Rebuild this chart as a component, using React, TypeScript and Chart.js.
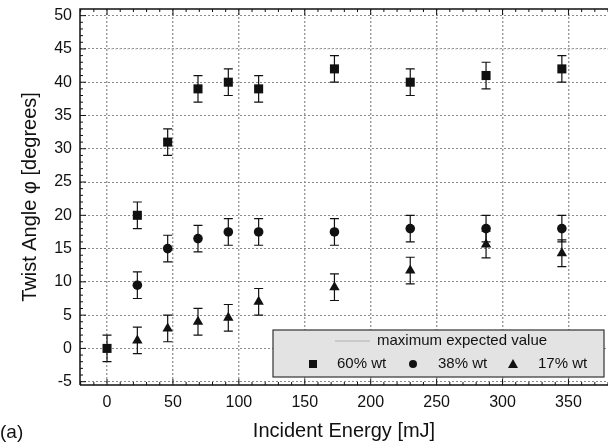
import React, { useEffect, useRef } from "react";
import { Chart, registerables } from "chart.js";
Chart.register(...registerables);

// ---- data ----
const energy60 = [0, 23, 46, 69, 92, 115, 172.5, 230, 287.5, 345];
const twist60 = [0, 20, 31, 39, 40, 39, 42, 40, 41, 42];
const err60 = [2, 2, 2, 2, 2, 2, 2, 2, 2, 2];

const energy38 = [23, 46, 69, 92, 115, 172.5, 230, 287.5, 345];
const twist38 = [9.5, 15, 16.5, 17.5, 17.5, 17.5, 18, 18, 18];
const err38 = [2, 2, 2, 2, 2, 2, 2, 2, 2];

const energy17 = [23, 46, 69, 92, 115, 172.5, 230, 287.5, 345];
const twist17 = [1.2, 3, 4, 4.6, 7, 9.2, 11.7, 15.6, 14.3];
const err17 = [2, 2, 2, 2, 2, 2, 2, 2, 2];

const maxExpectedX = [0, 380];
const maxExpectedY = [45, 45];

const xTickValues = [0, 50, 100, 150, 200, 250, 300, 350];
const yTickValues = [-5, 0, 5, 10, 15, 20, 25, 30, 35, 40, 45, 50];

const seriesLabels = ["maximum expected value", "60% wt", "38% wt", "17% wt"];
const xTitle = "Incident Energy [mJ]";
const yTitle = "Twist Angle \u03c6 [degrees]";
const panelLabel = "(a)";

const FONT = "'Liberation Sans', Arial, Helvetica, sans-serif";
const INK = "#111111";

const toPoints = (xs: number[], ys: number[]) => xs.map((x, i) => ({ x, y: ys[i] }));

const errorBarPlugin = {
  id: "errorBars",
  beforeDatasetsDraw(chart: any) {
    const ctx = chart.ctx;
    const yScale = chart.scales.y;
    ctx.save();
    ctx.strokeStyle = INK;
    ctx.lineWidth = 1.2;
    chart.data.datasets.forEach((ds: any, di: number) => {
      if (!ds.errors) return;
      const meta = chart.getDatasetMeta(di);
      meta.data.forEach((pt: any, i: number) => {
        const v = ds.data[i].y;
        const e = ds.errors[i];
        const x = pt.x;
        const yTop = yScale.getPixelForValue(v + e);
        const yBot = yScale.getPixelForValue(v - e);
        ctx.beginPath();
        ctx.moveTo(x, yTop);
        ctx.lineTo(x, yBot);
        ctx.moveTo(x - 4.5, yTop);
        ctx.lineTo(x + 4.5, yTop);
        ctx.moveTo(x - 4.5, yBot);
        ctx.lineTo(x + 4.5, yBot);
        ctx.stroke();
      });
    });
    ctx.restore();
  },
};

const framePlugin = {
  id: "frame",
  afterDraw(chart: any) {
    const ctx = chart.ctx;
    const { left, right, top, bottom } = chart.chartArea;
    const xs = chart.scales.x;
    const ys = chart.scales.y;
    ctx.save();
    ctx.strokeStyle = INK;
    ctx.lineWidth = 1.5;
    ctx.beginPath();
    ctx.moveTo(left, bottom);
    ctx.lineTo(left, top);
    ctx.lineTo(right, top);
    ctx.moveTo(left, bottom);
    ctx.lineTo(right, bottom);
    ctx.stroke();
    ctx.lineWidth = 1;
    ctx.beginPath();
    for (let v = -5; v <= 50; v += 1) {
      const y = ys.getPixelForValue(v);
      const len = v % 5 === 0 ? 6 : 3;
      ctx.moveTo(left, y);
      ctx.lineTo(left + len, y);
    }
    for (let v = -20; v <= 380; v += 10) {
      const x = xs.getPixelForValue(v);
      if (x < left || x > right) continue;
      const len = v % 50 === 0 ? 6 : 3;
      ctx.moveTo(x, top);
      ctx.lineTo(x, top + len);
      ctx.moveTo(x, bottom);
      ctx.lineTo(x, bottom - len);
    }
    ctx.stroke();

    // legend box
    const bx = 273, by = 330, bw = 331, bh = 47;
    ctx.fillStyle = "#e3e3e3";
    ctx.fillRect(bx, by, bw, bh);
    ctx.strokeStyle = "#333";
    ctx.lineWidth = 1.2;
    ctx.strokeRect(bx, by, bw, bh);

    ctx.fillStyle = INK;
    ctx.font = `15px ${FONT}`;
    ctx.textBaseline = "middle";
    ctx.textAlign = "left";
    ctx.strokeStyle = "#b0b0b0";
    ctx.lineWidth = 1;
    ctx.beginPath();
    ctx.moveTo(335, 341);
    ctx.lineTo(370, 341);
    ctx.stroke();
    ctx.fillText(seriesLabels[0], 377, 341);
    const rowY = 364;
    ctx.fillRect(313 - 4, rowY - 4, 8, 8);
    ctx.fillText(seriesLabels[1], 337, rowY);
    ctx.beginPath();
    ctx.arc(413, rowY, 4, 0, Math.PI * 2);
    ctx.fill();
    ctx.fillText(seriesLabels[2], 438, rowY);
    ctx.beginPath();
    ctx.moveTo(513, rowY - 5);
    ctx.lineTo(518, rowY + 4);
    ctx.lineTo(508, rowY + 4);
    ctx.closePath();
    ctx.fill();
    ctx.fillText(seriesLabels[3], 538, rowY);

    ctx.font = `19px ${FONT}`;
    ctx.fillText(panelLabel, 0, 433);
    ctx.restore();
  },
};

export default function App() {
  const ref = useRef<HTMLCanvasElement | null>(null);

  useEffect(() => {
    document.body.style.margin = "0";
    const canvas = ref.current;
    if (!canvas) return;
    const chart = new Chart(canvas, {
      type: "scatter",
      data: {
        datasets: [
          {
            type: "line",
            label: seriesLabels[0],
            data: toPoints(maxExpectedX, maxExpectedY),
            borderColor: "#c4c4c4",
            borderWidth: 1,
            borderDash: [2, 2],
            pointRadius: 0,
            fill: false,
          } as any,
          {
            label: seriesLabels[3],
            data: toPoints(energy17, twist17),
            errors: err17,
            pointStyle: "triangle",
            pointRadius: 6,
            backgroundColor: INK,
            borderColor: INK,
            borderWidth: 0,
          } as any,
          {
            label: seriesLabels[2],
            data: toPoints(energy38, twist38),
            errors: err38,
            pointStyle: "circle",
            pointRadius: 4.8,
            backgroundColor: INK,
            borderColor: INK,
            borderWidth: 0,
          } as any,
          {
            label: seriesLabels[1],
            data: toPoints(energy60, twist60),
            errors: err60,
            pointStyle: "rect",
            pointRadius: 6.4,
            backgroundColor: INK,
            borderColor: INK,
            borderWidth: 0,
          } as any,
        ],
      },
      options: {
        animation: false,
        responsive: false,
        layout: { autoPadding: false, padding: { top: 9, right: 0, left: 0, bottom: 0 } },
        plugins: {
          legend: { display: false },
          tooltip: { enabled: false },
        },
        scales: {
          x: {
            type: "linear",
            min: -20.5,
            max: 380,
            afterBuildTicks: (scale: any) => {
              scale.ticks = xTickValues.map((v) => ({ value: v }));
            },
            afterFit: (scale: any) => {
              scale.height = 62;
              scale.paddingLeft = 0;
              scale.paddingRight = 0;
              scale.paddingTop = 0;
              scale.paddingBottom = 0;
            },
            grid: {
              color: "#9a9a9a",
              lineWidth: 1.4,
              drawTicks: false,
            },
            border: { display: false, dash: [2, 2] },
            ticks: {
              color: INK,
              font: { family: FONT, size: 16 },
              padding: 8,
              maxRotation: 0,
            },
            title: {
              display: true,
              text: xTitle,
              color: INK,
              font: { family: FONT, size: 20 },
              padding: { top: 0, bottom: 4 },
            },
          },
          y: {
            type: "linear",
            min: -5.5,
            max: 51,
            afterBuildTicks: (scale: any) => {
              scale.ticks = yTickValues.map((v) => ({ value: v }));
            },
            afterFit: (scale: any) => {
              scale.width = 80;
              scale.paddingLeft = 0;
              scale.paddingRight = 0;
              scale.paddingTop = 0;
              scale.paddingBottom = 0;
            },
            grid: {
              color: "#8a8a8a",
              lineWidth: 1,
              drawTicks: false,
            },
            border: { display: false, dash: [2, 2] },
            ticks: {
              color: INK,
              font: { family: FONT, size: 16 },
              padding: 8,
            },
            title: {
              display: true,
              text: yTitle,
              color: INK,
              font: { family: FONT, size: 20 },
              padding: { top: 18, bottom: 0 },
            },
          },
        },
      },
      plugins: [errorBarPlugin, framePlugin],
    } as any);
    return () => chart.destroy();
  }, []);

  return (
    <div style={{ width: 608, height: 447, position: "relative", background: "#fff" }}>
      <canvas ref={ref} width={608} height={447} style={{ display: "block" }} />
    </div>
  );
}
